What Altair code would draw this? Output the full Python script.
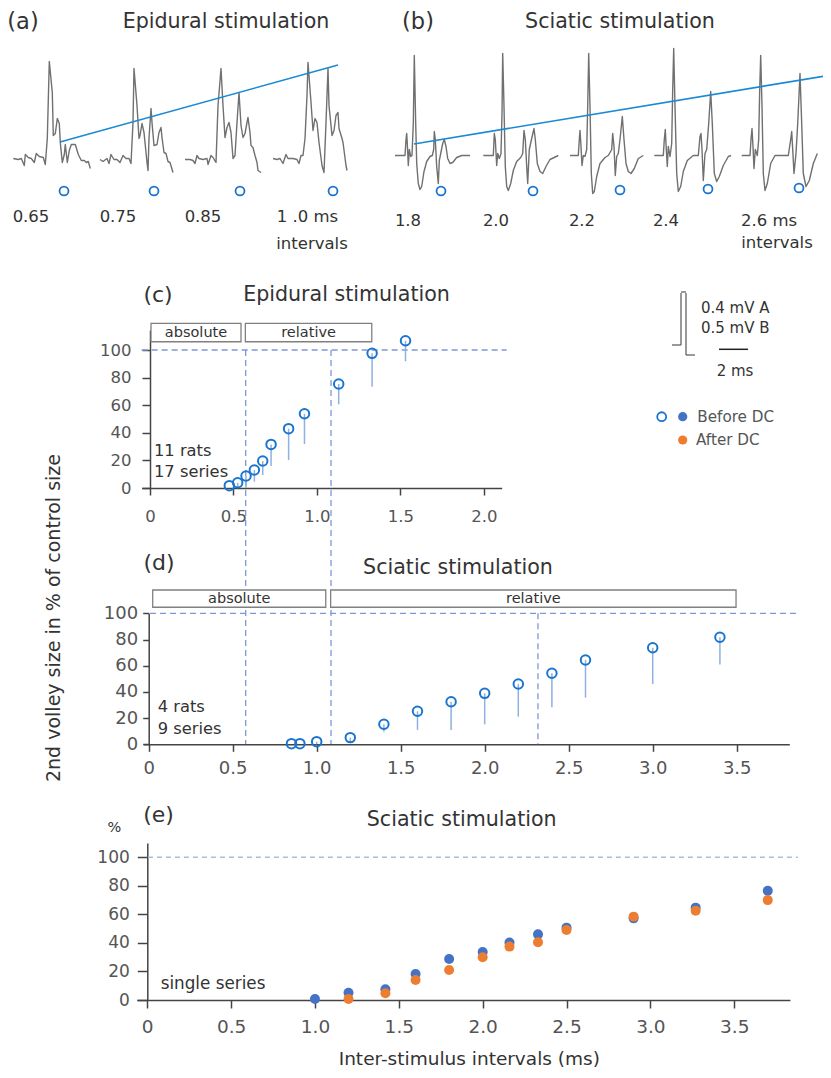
import altair as alt
import pandas as pd

FONT = "DejaVu Sans"
W, H = 815, 1062
TXT = "#333333"
LAB = "#555555"
AX = "#444444"
BLUE_OPEN = "#1a75cf"
BLUE_LINE = "#1a8ad4"
BLUE_FILL = "#4472c4"
ORANGE = "#ed7d31"
ERR = "#8fb0e0"
DASH = "#7f97d6"
DASH_E = "#a9bde3"
TRACE = "#707070"

# ---------------- (a) epidural traces: time in samples from sweep onset, amplitude units ----
a_onset = [0, 86.7, 171.7, 259.7]
a1_t = [0,5,8,11,12,15,18,21,23,26,30,32,34,36,39,40,42,44,46,47,49,51,52,54,56,58,62,65,68,71,73,75,77]
a1_v = [0,-1,0,-7,4,1,0,-4,5,2,1,-6,20,97,66,23,25,40,35,16,-4,4,14,-4,8,14,14,4,-2,-2,-4,-3,-10]
a2_t = [0,3,7,9,11,14,17,20,23,26,29,31,33,34,37,39,40,42,44,47,48,49,51,52,54,57,59,61,62,64,66,68,70,73]
a2_v = [-1,-3,0,-5,4,-1,-1,-4,3,0,0,-5,36,90,53,20,23,35,26,-4,-12,20,50,36,13,14,26,31,21,6,5,-3,-4,-14]
a3_t = [0,5,8,10,12,14,18,22,23,26,28,31,33,36,38,40,42,44,46,48,50,52,54,56,58,60,62,63,65,66,68,70,72,73,76]
a3_v = [-1,-1,-2,-5,3,0,-1,0,-6,3,1,-4,53,90,53,21,31,36,26,0,3,36,66,33,21,25,36,41,26,13,11,3,-4,-12,-14]
a4_t = [0,4,7,10,13,15,20,24,26,28,30,32,34,35,38,40,42,44,46,49,51,53,55,56,59,61,63,65,66,69,70,73,74]
a4_v = [0,-1,0,-5,4,0,0,-1,-5,3,3,20,63,96,56,28,40,36,16,-7,-14,36,90,53,23,28,43,46,30,20,16,-7,-12]
a_labels = ["0.65", "0.75", "0.85", "1 .0 ms", "intervals"]
a_label_t = [17.7, 104.7, 189.7, 294.2, 298.7]
a_label_v = [-58.5, -58.5, -58.5, -58.5, -85.5]
a_mark_t = [50.7, 140.7, 226.7, 319.7]
a_mark_v = [-32.5, -32.5, -32.5, -32.5]
a_fit_t = [46.7, 324.7]
a_fit_v = [16.5, 93.5]

# ---------------- (b) sciatic traces ----
b_onset = [0, 88.3, 175, 259.3, 346.7]
b1_t = [0,8.3,10,11,11.7,12.3,13.3,14.3,15.7,17,18.3,19.3,20.7,21.7,23.3,25,26.7,29,31.7,35,37.3,38.7,39.3,40.3,41.7,43.3,44.3,45.7,47.7,49.3,51,52.7,55,57.7,61.7,66.7,75]
b1_v = [0,0,0,16,22,12,-10,6,-1,0,32,100,32,-8,-28,-34,-31,-16,-6,-1,0,6,24,16,-11,-28,-5,2,12,16,9,-3,-8,-7,-2,0,0]
b2_t = [0,8.4,10,11,12,13.4,14.4,16,17.7,18.7,19.4,20.7,22,23.4,25,27.4,30,33.4,37.4,39.4,40.7,42,43.4,44.4,46,48.4,50.7,52,54,56.7,59.4,62.7,66.7,75]
b2_v = [0,0,0,22,16,-10,2,-3,2,42,102,49,-11,-31,-35,-28,-15,-6,-2,2,25,16,-11,-28,6,17,27,16,-8,-16,-18,-11,-4,0]
b3_t = [0,8.3,9.3,10,11,12,13.3,15,16.7,17.7,18.7,20,21.3,22.7,24.3,26.7,30,35,38.3,41.7,42.7,44,45.3,46.7,48.3,50,52.3,54,56,58.3,61,64.3,68.3,73.3]
b3_v = [0,0,16,25,9,-10,0,-1,6,49,102,49,-18,-38,-36,-21,-8,-2,0,6,22,9,-20,-1,2,16,39,16,-8,-16,-18,-13,-3,0]
b4_t = [0,9,10,11,12,13,14,15.7,17.4,18.4,19.4,20.7,22.4,24,26.4,29,33,39,44,45.7,46.7,47.7,49,50.7,52.4,54.4,56.4,58,60,62.4,65,69,74,76.7]
b4_v = [0,0,16,26,6,-11,9,-1,12,66,107,49,-18,-36,-31,-16,-5,0,0,19,22,6,-25,2,6,32,64,32,-18,-26,-21,-10,-1,0]
b5_t = [0,8.3,9.3,10.3,11.3,12.3,13.6,15.6,17,18,19,20.3,21.6,23.3,25.6,29,33.3,38.3,46.6,49,50,51,52.3,54.3,56,58.3,60,61.6,64.3,67.6,71.6,75.6]
b5_v = [0,0,16,27,9,-13,6,0,16,66,100,49,-18,-35,-28,-8,0,0,0,16,24,6,-18,2,32,82,32,-18,-31,-25,-8,2]
b_labels = ["1.8", "2.0", "2.2", "2.4", "2.6 ms", "intervals"]
b_label_t = [13, 101, 187, 271, 374, 382]
b_label_v = [-65.5, -65.5, -65.5, -65.5, -65.5, -87.5]
b_mark_t = [46, 138, 225, 313, 404]
b_mark_v = [-35.5, -35.5, -34.5, -33.5, -32.5]
b_fit_t = [19, 436]
b_fit_v = [11.5, 80.5]

# ---------------- (c) epidural stimulation, 11 rats / 17 series ----
c_x = [0.475, 0.525, 0.575, 0.625, 0.675, 0.725, 0.83, 0.925, 1.13, 1.33, 1.53]
c_y = [1.7, 3.8, 8.7, 13, 19.6, 31.6, 43, 53.8, 75.4, 97.6, 106.7]
c_lo = [1.7, 0, 0, 4.6, 9.4, 16, 20.3, 31.9, 60.7, 73.4, 91.8]
c_box_names = ["absolute", "relative"]
c_box_x0 = [0.006, 0.571]
c_box_x1 = [0.545, 1.328]
c_box_y = [106, 119.3]
c_period_x = [0.573, 1.084]

# ---------------- (d) sciatic stimulation, 4 rats / 9 series ----
d_x = [0.85, 0.9, 1.0, 1.2, 1.4, 1.6, 1.8, 2.0, 2.2, 2.4, 2.6, 3.0, 3.4]
d_y = [0.5, 0.5, 2, 5.1, 15.3, 25.2, 32.5, 38.9, 46, 54.2, 64.4, 73.7, 81.7]
d_lo = [0.5, 0.5, 0, 1, 9.6, 11, 11, 15.3, 21.1, 28.2, 35.6, 46, 61]
d_box_names = ["absolute", "relative"]
d_box_x0 = [0.024, 1.083]
d_box_x1 = [1.054, 3.496]
d_box_y = [104.6, 117.8]
d_period_x = [2.317]

# ---------------- (e) single series, before / after DC ----
e_x_before = [1.0, 1.2, 1.42, 1.6, 1.8, 2.0, 2.16, 2.33, 2.5, 2.9, 3.27, 3.7]
e_y_before = [0.7, 5.1, 7.5, 18.2, 28.7, 33.6, 40.2, 46, 50.7, 57.2, 64.7, 76.6]
e_x_after = [1.2, 1.42, 1.6, 1.8, 2.0, 2.16, 2.33, 2.5, 2.9, 3.27, 3.7]
e_y_after = [0.7, 4.7, 14, 21, 29.9, 37.4, 40.4, 49, 58.4, 62.6, 70]

y_ticks = [0, 20, 40, 60, 80, 100]
x_ticks_c = [0, 0.5, 1.0, 1.5, 2.0]
x_ticks_de = [0, 0.5, 1.0, 1.5, 2.0, 2.5, 3.0, 3.5]
LABEL_EXPR = "datum.value == 0 ? '0' : format(datum.value, '.1f')"


def sc(domain, rng):
    return alt.Scale(domain=domain, range=rng, nice=False, zero=False)


def trace_df(onsets, ts, vs):
    rows = []
    for i, (o, t, v) in enumerate(zip(onsets, ts, vs)):
        for tt, vv in zip(t, v):
            rows.append({"sweep": i, "t": o + tt, "v": vv})
    return pd.DataFrame(rows)


def txt(s, x, y, size, color=TXT, align="center", angle=0):
    return alt.Chart(pd.DataFrame({"s": [s]})).mark_text(
        font=FONT, fontSize=size, color=color, align=align, baseline="middle", angle=angle
    ).encode(x=alt.value(x), y=alt.value(y), text="s:N")


def rule(x, y, x2=None, y2=None, color="#555555", width=1.2):
    enc = {"x": alt.value(x), "y": alt.value(y)}
    if x2 is not None:
        enc["x2"] = alt.value(x2)
    if y2 is not None:
        enc["y2"] = alt.value(y2)
    return alt.Chart(pd.DataFrame({"k": [0]})).mark_rule(color=color, strokeWidth=width).encode(**enc)


def trace_panel(onsets, ts, vs, lab, lab_t, lab_v, mk_t, mk_v, fit_t, fit_v, xs, ys):
    df = trace_df(onsets, ts, vs)
    lines = alt.Chart(df).mark_line(color=TRACE, strokeWidth=1.4, strokeJoin="round").encode(
        x=alt.X("t:Q", scale=xs, axis=None),
        y=alt.Y("v:Q", scale=ys, axis=None),
        detail="sweep:N",
    )
    fit = alt.Chart(pd.DataFrame({"t": fit_t, "v": fit_v})).mark_line(
        color=BLUE_LINE, strokeWidth=1.6
    ).encode(x=alt.X("t:Q", scale=xs, axis=None), y=alt.Y("v:Q", scale=ys, axis=None))
    marks = alt.Chart(pd.DataFrame({"t": mk_t, "v": mk_v})).mark_point(
        shape="circle", filled=False, size=80, strokeWidth=1.8, color=BLUE_OPEN, opacity=1
    ).encode(x=alt.X("t:Q", scale=xs, axis=None), y=alt.Y("v:Q", scale=ys, axis=None))
    labels = alt.Chart(pd.DataFrame({"t": lab_t, "v": lab_v, "s": lab})).mark_text(
        font=FONT, fontSize=16.5, color=TXT, align="center", baseline="middle"
    ).encode(x=alt.X("t:Q", scale=xs, axis=None), y=alt.Y("v:Q", scale=ys, axis=None), text="s:N")
    return [lines, fit, marks, labels]


panel_a = trace_panel(a_onset, [a1_t, a2_t, a3_t, a4_t], [a1_v, a2_v, a3_v, a4_v],
                      a_labels, a_label_t, a_label_v, a_mark_t, a_mark_v, a_fit_t, a_fit_v,
                      sc([0, 400], [5.3, 405.3]), sc([0, 100], [150.5, 50.5]))
panel_b = trace_panel(b_onset, [b1_t, b2_t, b3_t, b4_t, b5_t], [b1_v, b2_v, b3_v, b4_v, b5_v],
                      b_labels, b_label_t, b_label_v, b_mark_t, b_mark_v, b_fit_t, b_fit_v,
                      sc([0, 440], [387, 827]), sc([0, 100], [147.5, 47.5]))


def x_axis(offset, values, size, tick, pad):
    return alt.Axis(orient="bottom", offset=offset, values=values, labelExpr=LABEL_EXPR, title=None,
                    grid=False, domainColor=AX, domainWidth=1.5, tickColor=AX, tickWidth=1.5,
                    tickSize=tick, labelFont=FONT, labelFontSize=size, labelColor=LAB,
                    labelPadding=pad, labelFlush=False)


def y_axis(offset, size, tick, pad):
    return alt.Axis(orient="left", offset=offset, values=y_ticks, title=None, grid=False,
                    domainColor=AX, domainWidth=1.5, tickColor=AX, tickWidth=1.5, tickSize=tick,
                    labelFont=FONT, labelFontSize=size, labelColor=LAB, labelPadding=pad,
                    labelFlush=False)


def box_layers(names, x0, x1, yb, xs, ys):
    bdf = pd.DataFrame({"name": names, "x0": x0, "x1": x1, "y0": [yb[0]] * len(names),
                        "y1": [yb[1]] * len(names)})
    bdf["xm"] = (bdf["x0"] + bdf["x1"]) / 2
    bdf["ym"] = (bdf["y0"] + bdf["y1"]) / 2
    rect = alt.Chart(bdf).mark_rect(fill="white", stroke="#808080", strokeWidth=1.3).encode(
        x=alt.X("x0:Q", scale=xs, axis=None), x2="x1:Q",
        y=alt.Y("y0:Q", scale=ys, axis=None), y2="y1:Q")
    lab = alt.Chart(bdf).mark_text(font=FONT, fontSize=14.5, color=TXT, baseline="middle").encode(
        x=alt.X("xm:Q", scale=xs, axis=None), y=alt.Y("ym:Q", scale=ys, axis=None), text="name:N")
    return [rect, lab]


def note(lines_, xval, yvals, xs, ys, size=16.3):
    return alt.Chart(pd.DataFrame({"s": lines_, "x": [xval] * len(lines_), "y": yvals})).mark_text(
        font=FONT, fontSize=size, color=TXT, align="left", baseline="middle").encode(
        x=alt.X("x:Q", scale=xs, axis=None), y=alt.Y("y:Q", scale=ys, axis=None), text="s:N")


# ---- panel c ----
CX = sc([-0.05, 2.106], [133.65, 493.7])
CY = sc([0, 114.5], [480, 322])
cdf = pd.DataFrame({"x": c_x, "y": c_y, "lo": c_lo})
c_err = alt.Chart(cdf).mark_rule(color=ERR, strokeWidth=1.5).encode(
    x=alt.X("x:Q", scale=CX, axis=None), y=alt.Y("y:Q", scale=CY, axis=None), y2="lo:Q")
c_pts = alt.Chart(cdf).mark_point(shape="circle", filled=False, size=90, strokeWidth=2,
                                  color=BLUE_OPEN, opacity=1).encode(
    x=alt.X("x:Q", scale=CX, axis=x_axis(480 - H, x_ticks_c, 16.5, 7, 13)),
    y=alt.Y("y:Q", scale=CY, axis=y_axis(-142, 16.5, 8, 11)))
c_h = alt.Chart(pd.DataFrame({"x0": [-0.05], "x1": [2.136], "y": [100]})).mark_rule(
    color=DASH, strokeWidth=1.3, strokeDash=[6, 4]).encode(
    x=alt.X("x0:Q", scale=CX, axis=None), x2="x1:Q", y=alt.Y("y:Q", scale=CY, axis=None))
c_v = alt.Chart(pd.DataFrame({"x": c_period_x, "y": [100] * len(c_period_x)})).mark_rule(
    color=DASH, strokeWidth=1.3, strokeDash=[6, 4]).encode(
    x=alt.X("x:Q", scale=CX, axis=None), y=alt.Y("y:Q", scale=CY, axis=None), y2=alt.value(736))
panel_c = [c_h, c_v, *box_layers(c_box_names, c_box_x0, c_box_x1, c_box_y, CX, CY),
           c_err, c_pts, note(["11 rats", "17 series"], 0.024, [27, 11.8], CX, CY)]

# ---- panel d ----
DX = sc([-0.032, 3.813], [135.3, 781.3])
DY = sc([0, 100], [736.3, 605.3])
ddf = pd.DataFrame({"x": d_x, "y": d_y, "lo": d_lo})
d_err = alt.Chart(ddf).mark_rule(color=ERR, strokeWidth=1.5).encode(
    x=alt.X("x:Q", scale=DX, axis=None), y=alt.Y("y:Q", scale=DY, axis=None), y2="lo:Q")
d_pts = alt.Chart(ddf).mark_point(shape="circle", filled=False, size=90, strokeWidth=2,
                                  color=BLUE_OPEN, opacity=1).encode(
    x=alt.X("x:Q", scale=DX, axis=x_axis(736.3 - H, x_ticks_de, 18, 7, 8)),
    y=alt.Y("y:Q", scale=DY, axis=y_axis(-140.7, 18, 6, 5)))
d_h = alt.Chart(pd.DataFrame({"x0": [0.008], "x1": [3.867], "y": [100]})).mark_rule(
    color=DASH, strokeWidth=1.3, strokeDash=[6, 4]).encode(
    x=alt.X("x0:Q", scale=DX, axis=None), x2="x1:Q", y=alt.Y("y:Q", scale=DY, axis=None))
d_v = alt.Chart(pd.DataFrame({"x": d_period_x, "y": [100], "y0": [0]})).mark_rule(
    color=DASH, strokeWidth=1.3, strokeDash=[6, 4]).encode(
    x=alt.X("x:Q", scale=DX, axis=None), y=alt.Y("y:Q", scale=DY, axis=None), y2="y0:Q")
panel_d = [d_h, d_v, *box_layers(d_box_names, d_box_x0, d_box_x1, d_box_y, DX, DY),
           d_err, d_pts, note(["4 rats", "9 series"], 0.054, [28.7, 11.7], DX, DY)]

# ---- panel e ----
EX = sc([-0.063, 3.832], [128.7, 781.9])
EY = sc([0, 110], [992, 835.0])
e_h = alt.Chart(pd.DataFrame({"x0": [0.004], "x1": [3.88], "y": [100]})).mark_rule(
    color=DASH_E, strokeWidth=1.3, strokeDash=[5, 4]).encode(
    x=alt.X("x0:Q", scale=EX, axis=None), x2="x1:Q", y=alt.Y("y:Q", scale=EY, axis=None))
e_before = alt.Chart(pd.DataFrame({"x": e_x_before, "y": e_y_before})).mark_circle(
    size=100, color=BLUE_FILL, opacity=1).encode(
    x=alt.X("x:Q", scale=EX, axis=x_axis(992 - H, x_ticks_de, 18.5, 8, 9)),
    y=alt.Y("y:Q", scale=EY, axis=y_axis(-139.3, 17, 10, 8)))
e_after = alt.Chart(pd.DataFrame({"x": e_x_after, "y": e_y_after})).mark_circle(
    size=100, color=ORANGE, opacity=1).encode(
    x=alt.X("x:Q", scale=EX, axis=None), y=alt.Y("y:Q", scale=EY, axis=None))
panel_e = [e_h, e_before, e_after, note(["single series"], 0.08, [11.2], EX, EY, 16.8)]

# ---- text, scale bars and legend ----
texts = [
    txt("(a)", 15, 14, 22.5), txt("Epidural stimulation", 218, 14, 20.6),
    txt("(b)", 410, 14, 22.5), txt("Sciatic stimulation", 612, 14, 20.6),
    txt("(c)", 150, 287, 22), txt("Epidural stimulation", 338.5, 287, 20.6),
    txt("(d)", 151, 555, 22), txt("Sciatic stimulation", 450, 560, 20.6),
    txt("(e)", 150.5, 807, 22), txt("%", 106.5, 820, 14.5), txt("Sciatic stimulation", 453.7, 812, 20.6),
    txt("Inter-stimulus intervals (ms)", 461.3, 1051, 18.5),
    txt("2nd volley size in % of control size", 46, 610, 19, angle=270),
    txt("0.4 mV A", 693, 300, 15, align="left"), txt("0.5 mV B", 693, 320, 15, align="left"),
    txt("2 ms", 727, 362.7, 15),
    txt("Before DC", 689.3, 408.7, 15.2, color=LAB, align="left"),
    txt("After DC", 688, 432, 15.2, color=LAB, align="left"),
]
bars = [
    rule(664, 337, x2=673), rule(673, 285, y2=337), rule(673, 284, x2=678),
    rule(678, 285, y2=347), rule(678, 347, x2=687), rule(711, 341.3, x2=740, color="#222222", width=1.5),
]
one = pd.DataFrame({"k": [0]})
legend = [
    alt.Chart(one).mark_point(shape="circle", filled=False, size=80, strokeWidth=1.8,
                              color=BLUE_OPEN, opacity=1).encode(x=alt.value(653.7), y=alt.value(408.7)),
    alt.Chart(one).mark_circle(size=85, color=BLUE_FILL, opacity=1).encode(
        x=alt.value(674.7), y=alt.value(408.7)),
    alt.Chart(one).mark_circle(size=85, color=ORANGE, opacity=1).encode(
        x=alt.value(674.7), y=alt.value(432)),
]

chart = alt.layer(*panel_a, *panel_b, *panel_c, *panel_d, *panel_e, *texts, *bars, *legend).resolve_scale(
    x="independent", y="independent"
).resolve_axis(
    x="independent", y="independent"
).properties(
    width=W, height=H, padding=0, autosize=alt.AutoSizeParams(type="none")
).configure_view(stroke="transparent")

chart.save("out.html", embed_options={"renderer": "svg", "actions": False})
